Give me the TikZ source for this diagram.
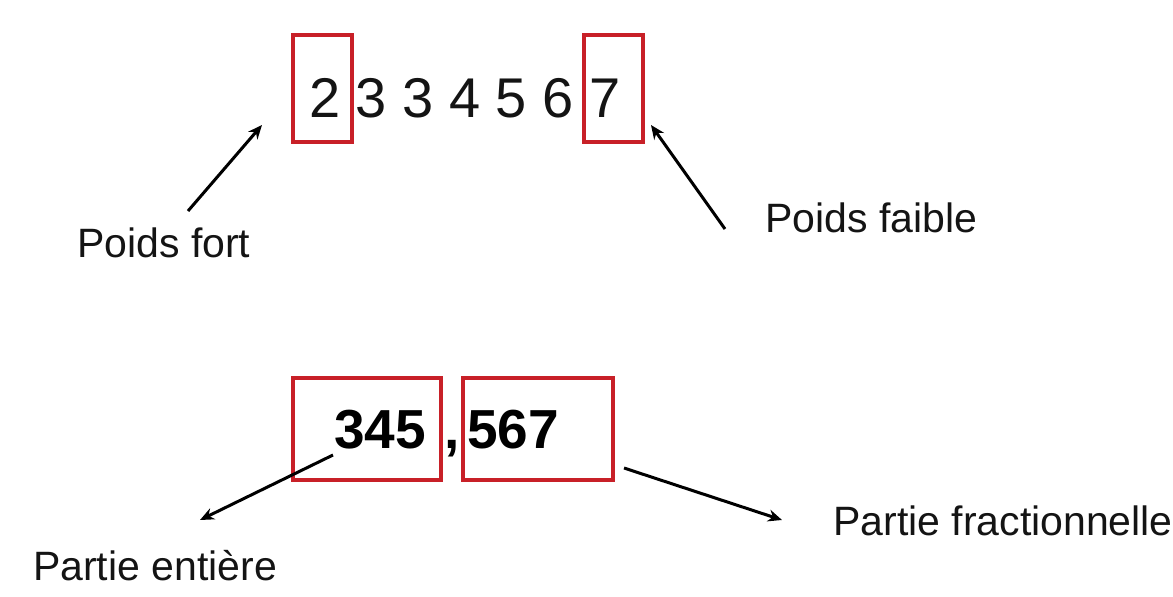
\documentclass[tikz,border=0pt]{standalone}
\usepackage{fontspec}
\setmainfont{Liberation Sans}
\usetikzlibrary{arrows.meta}
\definecolor{boxred}{RGB}{200,32,40}
\definecolor{ink}{RGB}{20,20,20}
\begin{document}
\begin{tikzpicture}[x=1pt,y=-1pt,
  redbox/.style={draw=boxred,line width=3.5pt,rectangle,inner sep=0pt},
  digits/.style={inner sep=0pt,anchor=base west,text=ink,font=\fontsize{56}{60}\selectfont},
  bigbold/.style={inner sep=0pt,anchor=base west,text=black,font=\fontsize{55}{60}\selectfont\bfseries},
  lbl/.style={inner sep=0pt,anchor=base west,text=ink,font=\fontsize{41}{46}\selectfont},
  arr/.style={draw=black,line width=3pt,-{Stealth[length=14pt,width=12pt]}}]
\useasboundingbox (0,0) rectangle (1173,597);
\fill[white] (0,0) rectangle (1173,597);
% top row
\node[redbox,minimum width=59pt,minimum height=107pt] (boxfort) at (322.5,88.5) {};
\node[redbox,minimum width=59pt,minimum height=107pt] (boxfaible) at (613.5,88.5) {};
\node[digits] (nums) at (309,117) {2 3 3 4 5 6 7};
\node[lbl] (lfort) at (77,257) {Poids fort};
\node[lbl] (lfaible) at (765,232) {Poids faible};
\coordinate (fortS) at (188,211);
\coordinate (fortT) at (262,125);
\coordinate (faibleS) at (725,229);
\coordinate (faibleT) at (651,125);
\draw[arr] (fortS) -- (fortT);
\draw[arr] (faibleS) -- (faibleT);
% bottom row
\node[redbox,minimum width=148pt,minimum height=102pt] (boxent) at (367,429) {};
\node[redbox,minimum width=150pt,minimum height=102pt] (boxfrac) at (538,429) {};
\node[bigbold] (ent) at (334,448) {345};
\node[bigbold] (virg) at (444,448) {,};
\node[bigbold] (frac) at (467,448) {567};
\node[lbl] (lent) at (33,580) {Partie entière};
\node[lbl] (lfrac) at (833,535) {Partie fractionnelle};
\coordinate (entS) at (333,455);
\coordinate (entT) at (200,520);
\coordinate (fracS) at (624,468);
\coordinate (fracT) at (782,520);
\draw[arr] (entS) -- (entT);
\draw[arr] (fracS) -- (fracT);
\end{tikzpicture}
\end{document}
